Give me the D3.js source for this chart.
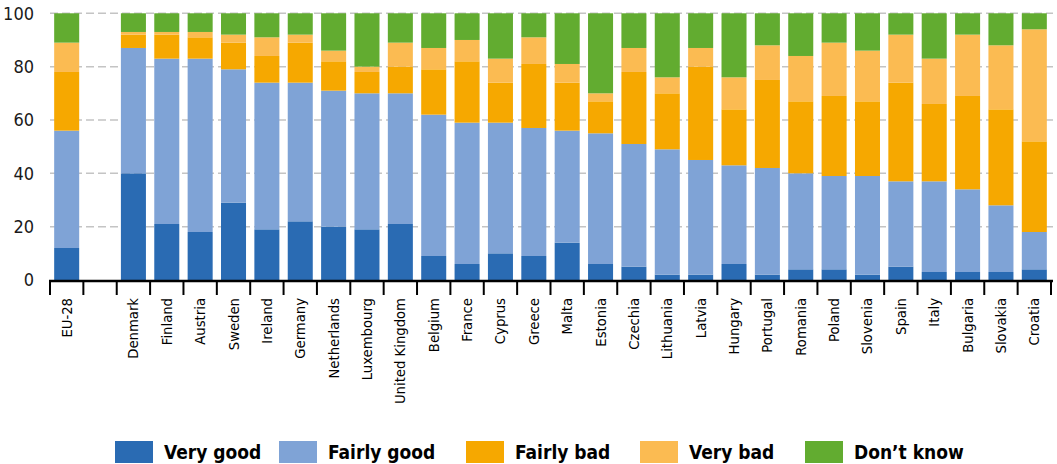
<!DOCTYPE html>
<html>
<head>
<meta charset="utf-8">
<script src="https://cdn.jsdelivr.net/npm/d3@7"></script>
<style>
  html, body { margin: 0; padding: 0; background: #fff; }
  svg { display: block; }
  text { font-family: "Liberation Sans Narrow", "DejaVu Sans Condensed", "Open Sans", sans-serif; }
</style>
</head>
<body>
<svg id="chart" width="1057" height="464"></svg>
<script>
const categories = ["EU-28", "", "Denmark", "Finland", "Austria", "Sweden", "Ireland", "Germany", "Netherlands", "Luxembourg", "United Kingdom", "Belgium", "France", "Cyprus", "Greece", "Malta", "Estonia", "Czechia", "Lithuania", "Latvia", "Hungary", "Portugal", "Romania", "Poland", "Slovenia", "Spain", "Italy", "Bulgaria", "Slovakia", "Croatia"];
const veryGood   = [12, null, 40, 21, 18, 29, 19, 22, 20, 19, 21,  9,  6, 10,  9, 14,  6,  5,  2,  2,  6,  2,  4,  4,  2,  5,  3,  3,  3,  4];
const fairlyGood = [44, null, 47, 62, 65, 50, 55, 52, 51, 51, 49, 53, 53, 49, 48, 42, 49, 46, 47, 43, 37, 40, 36, 35, 37, 32, 34, 31, 25, 14];
const fairlyBad  = [22, null,  5,  9,  8, 10, 10, 15, 11,  8, 10, 17, 23, 15, 24, 18, 12, 27, 21, 35, 21, 33, 27, 30, 28, 37, 29, 35, 36, 34];
const veryBad    = [11, null,  1,  1,  2,  3,  7,  3,  4,  2,  9,  8,  8,  9, 10,  7,  3,  9,  6,  7, 12, 13, 17, 20, 19, 18, 17, 23, 24, 42];
const dontKnow   = [11, null,  7,  7,  7,  8,  9,  8, 14, 20, 11, 13, 10, 17,  9, 19, 30, 13, 24, 13, 24, 12, 16, 11, 14,  8, 17,  8, 12,  6];
const seriesNames = ["Very good", "Fairly good", "Fairly bad", "Very bad", "Don\u2019t know"];
const yTicks = [0, 20, 40, 60, 80, 100];

const colors = ["#2a6bb3", "#7fa3d6", "#f6a800", "#fbbb52", "#62ac30"];
const seriesValues = [veryGood, fairlyGood, fairlyBad, veryBad, dontKnow];

const svg = d3.select("#chart");
const keys = categories.map((c, i) => c === "" ? "__gap" + i : c);

const x = d3.scaleBand().domain(keys).range([50, 1051]).paddingInner(0.25).paddingOuter(0.125);
const y = d3.scaleLinear().domain([0, 100]).range([280, 13.3]);

// gridlines
svg.append("g").selectAll("line").data(yTicks.filter(t => t > 0)).join("line")
  .attr("x1", 50).attr("x2", 1053)
  .attr("y1", d => y(d)).attr("y2", d => y(d))
  .attr("stroke", "#c4c4c4").attr("stroke-width", 1.5).attr("stroke-dasharray", "8,4");

// y labels
svg.append("g").selectAll("text").data(yTicks).join("text")
  .attr("x", 34).attr("y", d => y(d)).attr("dy", "0.36em")
  .attr("text-anchor", "end").attr("font-size", 18).attr("fill", "#1a1a1a")
  .text(d => d);

// stacked data
const rows = keys.map((k, i) => {
  const r = { key: k };
  seriesNames.forEach((s, j) => { r[s] = seriesValues[j][i] == null ? 0 : seriesValues[j][i]; });
  return r;
});
const stack = d3.stack().keys(seriesNames)(rows);

svg.append("g").selectAll("g").data(stack).join("g")
  .attr("fill", (d, i) => colors[i])
  .selectAll("rect").data(d => d.filter(p => p[1] > p[0])).join("rect")
  .attr("x", d => x(d.data.key))
  .attr("width", x.bandwidth())
  .attr("y", d => y(d[1]))
  .attr("height", d => y(d[0]) - y(d[1]));

// x axis line and boundary ticks
const step = x.step();
const boundaries = keys.map(k => x(k) - (step - x.bandwidth()) / 2);
boundaries.push(boundaries[boundaries.length - 1] + step);
svg.append("line").attr("x1", 49).attr("x2", 1053).attr("y1", 281).attr("y2", 281)
  .attr("stroke", "#000").attr("stroke-width", 2.5);
svg.append("g").selectAll("line").data(boundaries).join("line")
  .attr("x1", d => d).attr("x2", d => d).attr("y1", 281).attr("y2", 295)
  .attr("stroke", "#000").attr("stroke-width", 2);

// category labels
svg.append("g").selectAll("text").data(keys.filter(k => !k.startsWith("__gap"))).join("text")
  .attr("transform", d => `translate(${x(d) + x.bandwidth() / 2 + 5},298) rotate(-90)`)
  .attr("text-anchor", "end").attr("font-size", 14.7).attr("fill", "#000")
  .text(d => d);

// legend
const legendX = [115, 279, 466, 640, 805];
const lg = svg.append("g").selectAll("g").data(seriesNames).join("g")
  .attr("transform", (d, i) => `translate(${legendX[i]},441)`);
lg.append("rect").attr("width", 38).attr("height", 22).attr("fill", (d, i) => colors[i]);
lg.append("text").attr("x", 49).attr("y", 18).attr("font-size", 19).attr("font-weight", "bold")
  .attr("fill", "#000").text(d => d);
</script>
</body>
</html>
